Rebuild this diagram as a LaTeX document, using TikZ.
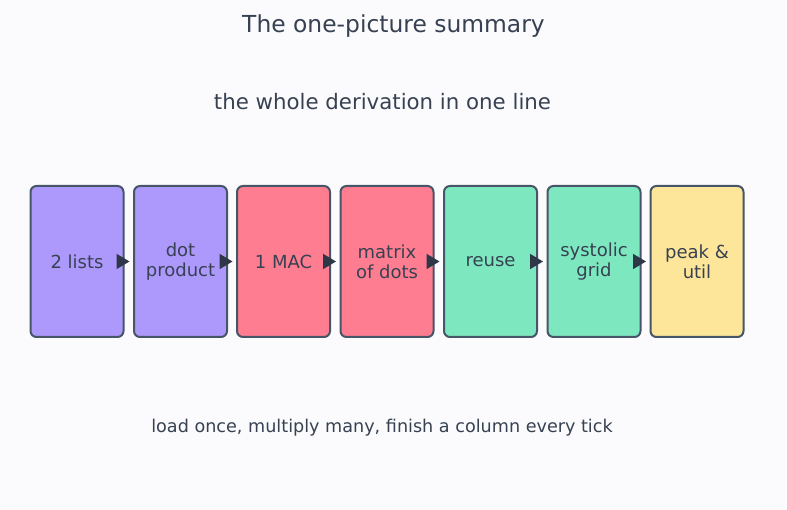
\documentclass[tikz,border=0pt]{standalone}
\usepackage{fontspec}
\setmainfont{DejaVu Sans}
\usetikzlibrary{arrows.meta}
\definecolor{bg}{HTML}{FBFBFD}
\definecolor{ink}{HTML}{374151}
\definecolor{edge}{HTML}{475569}
\definecolor{arr}{HTML}{2D3748}
\definecolor{cpurple}{HTML}{AD99FC}
\definecolor{cred}{HTML}{FF7D91}
\definecolor{cgreen}{HTML}{7DE8C0}
\definecolor{cyellow}{HTML}{FDE699}
\tikzset{
  stage/.style={draw=edge, line width=2pt, rounded corners=6pt, minimum width=93pt, minimum height=151pt, inner sep=0pt, text=ink, align=center, font=\fontsize{18}{20}\selectfont},
  flow/.style={draw=arr, line width=1.8pt, -{Triangle[length=13pt,width=15pt]}, shorten >=3.5pt},
  ttl/.style={text=ink, font=\fontsize{23.4}{28}\selectfont},
  sub/.style={text=ink, font=\fontsize{21.3}{25}\selectfont},
  note/.style={text=ink, font=\fontsize{17.6}{21}\selectfont}
}
\begin{document}
\begin{tikzpicture}[x=1pt,y=-1pt]
\fill[bg] (0,0) rectangle (787,510);
\useasboundingbox (0,0) rectangle (787,510);
\node[ttl] (title) at (393.5,26.5) {The one-picture summary};
\node[sub] (subtitle) at (382.5,101.5) {the whole derivation in one line};
\node[stage, fill=cpurple] (s1) at (77,261.5) {2 lists};
\node[stage, fill=cpurple] (s2) at (180.5,261.5) {dot\\product};
\node[stage, fill=cred] (s3) at (283.5,261.5) {1 MAC};
\node[stage, fill=cred] (s4) at (387,261.5) {matrix\\of dots};
\node[stage, fill=cgreen] (s5) at (490.5,261.5) {reuse};
\node[stage, fill=cgreen] (s6) at (594,261.5) {systolic\\grid};
\node[stage, fill=cyellow] (s7) at (697,261.5) {peak \&\\util};
\foreach \a/\b in {s1/s2,s2/s3,s3/s4,s4/s5,s5/s6,s6/s7}
  \draw[flow] (\a.east) -- (\b.west);
\node[note] (caption) at (382,427.5) {load once, multiply many, finish a column every tick};
\end{tikzpicture}
\end{document}
